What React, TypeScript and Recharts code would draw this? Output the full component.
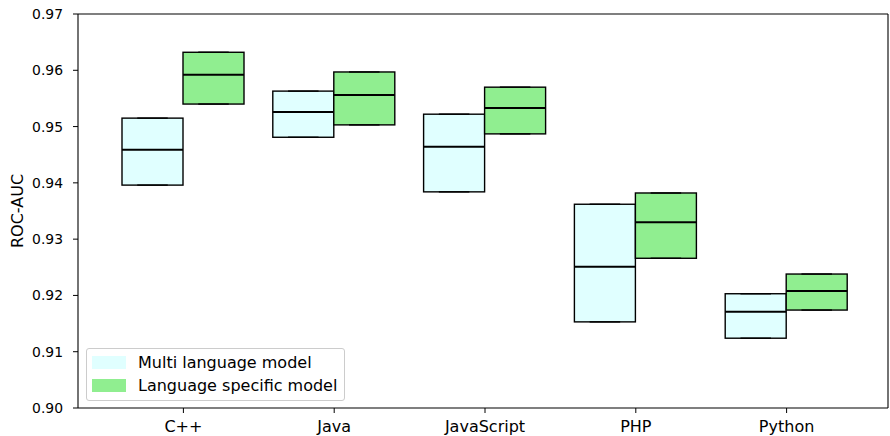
import { Bar, BarChart, Legend, XAxis, YAxis } from "recharts";

const languages = ["C++", "Java", "JavaScript", "PHP", "Python"];

// multi language model: box bottom, median, box top
const multiLow = [0.9396, 0.9481, 0.9384, 0.9153, 0.9124];
const multiMedian = [0.9459, 0.9526, 0.9464, 0.9251, 0.9171];
const multiHigh = [0.9515, 0.9563, 0.9522, 0.9362, 0.9203];

// language specific model: box bottom, median, box top
const specificLow = [0.954, 0.9503, 0.9487, 0.9266, 0.9174];
const specificMedian = [0.9592, 0.9556, 0.9533, 0.933, 0.9208];
const specificHigh = [0.9632, 0.9597, 0.957, 0.9382, 0.9238];

const yTicks = [0.9, 0.91, 0.92, 0.93, 0.94, 0.95, 0.96, 0.97];
const seriesNames = ["Multi language model", "Language specific model"];

const data = languages.map((lang, i) => ({
  lang,
  multi: [multiLow[i], multiHigh[i]],
  multiMedian: multiMedian[i],
  specific: [specificLow[i], specificHigh[i]],
  specificMedian: specificMedian[i],
}));

const MULTI = "#e0ffff";
const SPECIFIC = "#90ee90";
const FONT = "'DejaVu Sans', sans-serif";
const yTickStyle = { fill: "#000", fontSize: 13.9, fontFamily: FONT };
const xTickStyle = { fill: "#000", fontSize: 16, fontFamily: FONT };

// draws a box with caps at both ends and a median line
function boxShape(rangeKey: string, medianKey: string, fill: string) {
  return (props: any) => {
    const { x, y, width, height, payload } = props;
    const top = Math.min(y, y + height);
    const h = Math.abs(height);
    const [lo, hi] = payload[rangeKey];
    const my = top + (h * (hi - payload[medianKey])) / (hi - lo);
    return (
      <g>
        <rect x={x} y={top} width={width} height={h} fill={fill} stroke="#000" strokeWidth={1.4} />
        <line x1={x + width / 4} x2={x + (3 * width) / 4} y1={top} y2={top} stroke="#000" strokeWidth={1.4} />
        <line x1={x + width / 4} x2={x + (3 * width) / 4} y1={top + h} y2={top + h} stroke="#000" strokeWidth={1.4} />
        <line x1={x} x2={x + width} y1={my} y2={my} stroke="#000" strokeWidth={2} />
      </g>
    );
  };
}

function LegendBox({ payload }: any) {
  const items = [...(payload || [])].sort(
    (a: any, b: any) => seriesNames.indexOf(a.value) - seriesNames.indexOf(b.value)
  );
  return (
    <div
      style={{
        position: "relative",
        width: 259,
        height: 53,
        boxSizing: "border-box",
        border: "1px solid #cccccc",
        borderRadius: 3,
        background: "rgba(255,255,255,0.8)",
        fontFamily: FONT,
        fontSize: 16,
        color: "#000",
      }}
    >
      {items.map((item: any, i: number) => (
        <div key={item.value} style={{ position: "absolute", left: 5, top: 5 + i * 23, height: 17, display: "flex", alignItems: "center" }}>
          <span style={{ display: "inline-block", width: 34, height: 13, background: item.color, marginRight: 12 }} />
          <span style={{ lineHeight: "17px", whiteSpace: "nowrap" }}>{item.value}</span>
        </div>
      ))}
    </div>
  );
}

function AxisTitle({ viewBox }: any) {
  const cx = viewBox.x + 17.5;
  const cy = viewBox.y + viewBox.height / 2;
  return (
    <text x={cx} y={cy} transform={`rotate(-90, ${cx}, ${cy})`} textAnchor="middle" dominantBaseline="central" fill="#000" fontSize={16} fontFamily={FONT}>
      ROC-AUC
    </text>
  );
}

export default function App() {
  return (
    <div style={{ position: "absolute", left: 0, top: 0, width: 890, height: 436, background: "#fff" }}>
      <BarChart width={890} height={436} data={data} margin={{ top: 13, right: 1, bottom: 0, left: 0 }} barSize={61} barGap={0}>
        <XAxis
          dataKey="lang"
          height={28}
          padding={{ left: 30, right: 26 }}
          tick={xTickStyle}
          tickSize={5}
          tickMargin={8}
          axisLine={{ stroke: "#000", strokeWidth: 1.1 }}
          tickLine={{ stroke: "#000" }}
        />
        <XAxis xAxisId="top" orientation="top" dataKey="lang" height={1} tick={false} tickLine={false} axisLine={{ stroke: "#000", strokeWidth: 1.1 }} />
        <YAxis
          type="number"
          width={78}
          domain={[0.9, 0.97]}
          ticks={yTicks}
          allowDataOverflow
          tickFormatter={(v: number) => v.toFixed(2)}
          tick={yTickStyle}
          tickSize={5}
          tickMargin={10}
          axisLine={{ stroke: "#000", strokeWidth: 1.1 }}
          tickLine={{ stroke: "#000" }}
          label={<AxisTitle />}
        />
        <YAxis yAxisId="right" orientation="right" width={1} type="number" domain={[0.9, 0.97]} allowDataOverflow tick={false} tickLine={false} axisLine={{ stroke: "#000", strokeWidth: 1.1 }} />
        <Legend
          layout="vertical"
          align="center"
          verticalAlign="middle"
          width={259}
          height={53}
          wrapperStyle={{ left: 86, top: 348, width: 259, height: 53 }}
          content={<LegendBox />}
        />
        <Bar dataKey="multi" name={seriesNames[0]} fill={MULTI} shape={boxShape("multi", "multiMedian", MULTI)} isAnimationActive={false} />
        <Bar dataKey="specific" name={seriesNames[1]} fill={SPECIFIC} shape={boxShape("specific", "specificMedian", SPECIFIC)} isAnimationActive={false} />
      </BarChart>
    </div>
  );
}
